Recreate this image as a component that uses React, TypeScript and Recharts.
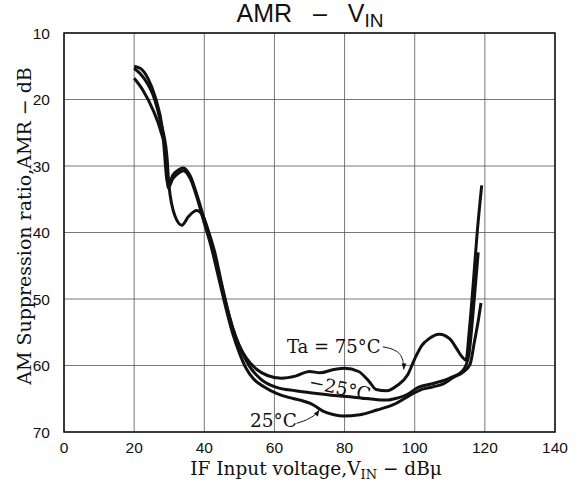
import React from 'react';
import { LineChart, Line, XAxis, YAxis, CartesianGrid, ReferenceArea } from 'recharts';

// axis ticks
const xTicks = [0, 20, 40, 60, 80, 100, 120, 140];
const yTicks = [10, 20, 30, 40, 50, 60, 70];

// Ta = 75°C
const vin75 = [20, 22, 24, 26, 28, 29.7, 31, 32.6, 34, 36, 38, 40, 42, 44, 46, 48, 50, 52, 55, 58, 62, 66, 70, 73, 77, 80, 84, 87, 89, 92, 95, 98, 100, 102, 104, 107, 110, 112, 113.5, 114.6, 115.6, 116.7, 117.8, 119.1];
const amr75 = [15.0, 15.4, 16.9, 19.6, 24.2, 33.0, 31.4, 30.6, 30.3, 31.5, 34.5, 38.0, 41.5, 46.0, 50.3, 54.2, 57.0, 58.9, 60.6, 61.5, 61.9, 61.6, 60.9, 61.1, 60.6, 60.4, 60.9, 62.4, 63.6, 63.8, 63.0, 61.4, 59.0, 57.0, 56.0, 55.3, 56.0, 57.5, 58.7, 59.2, 54.5, 47.6, 40.1, 32.9];

// Ta = -25°C
const vinM25 = [20, 22.5, 25.9, 27.5, 29.3, 29.9, 31.7, 33.6, 35.5, 37.8, 39.7, 41, 43, 45, 47, 49, 51, 53, 56, 60.6, 66, 72, 77, 81.5, 87, 92, 95, 97.7, 101, 105.3, 110, 113.8, 115.4, 116.4, 117.3, 118.1];
const amrM25 = [15.3, 16.6, 20.1, 23.3, 28.3, 32.8, 37.6, 38.9, 37.6, 36.7, 37.6, 39.5, 43.0, 47.8, 52.3, 55.8, 58.3, 60.2, 62.0, 63.3, 63.8, 64.2, 64.5, 64.7, 65.0, 65.2, 64.9, 64.4, 63.3, 62.7, 61.9, 60.7, 58.5, 53.5, 48.0, 43.0];

// Ta = 25°C
const vin25 = [20, 22.5, 25.4, 27.5, 29.2, 29.7, 31, 32.6, 34, 36, 38, 40, 42, 44, 46, 48, 50, 52, 54, 57, 60.6, 64, 67.3, 71, 74, 77, 79.6, 84.4, 89.2, 93.9, 99.6, 102, 105.3, 108, 111, 113.8, 115.8, 117, 118.2, 118.9];
const amr25 = [16.8, 18.6, 21.6, 24.6, 28.6, 33.3, 31.9, 31.1, 30.7, 31.9, 34.9, 38.6, 42.2, 46.6, 51.0, 55.0, 58.1, 60.5, 62.0, 63.2, 64.2, 64.8, 65.2, 65.9, 66.9, 67.4, 67.6, 67.4, 66.7, 65.9, 64.2, 63.6, 63.2, 62.8, 61.8, 61.0, 59.8, 56.5, 53.0, 50.6];

// leader lines for the annotations
const arrow75Vin = [90.9, 94.9, 96.6, 96.9];
const arrow75Amr = [57.2, 57.9, 59.2, 60.6];
const arrow25Vin = [66.3, 70.1, 72.0, 72.8];
const arrow25Amr = [68.7, 67.9, 67.2, 66.7];
const arrowAngles = [92, -55];

const zip = (xs: number[], ys: number[]) => xs.map((vin, i) => ({ vin, amr: ys[i] }));

const serif = '"DejaVu Serif", serif';
const sans = '"Liberation Sans", Arial, sans-serif';

const W = 579;
const H = 486;

// small arrowhead on the last point of a leader line
const arrowHead = (angle: number, last: number) => (props: any) => {
  const { cx, cy, index } = props;
  if (index !== last || cx == null || cy == null) return <g key={`h${index}`} />;
  return (
    <polygon
      key={`h${index}`}
      points="0,0 -6,-2.5 -6,2.5"
      fill="#111"
      transform={`translate(${cx},${cy}) rotate(${angle})`}
    />
  );
};

export default function App() {
  const curves = [zip(vin75, amr75), zip(vinM25, amrM25), zip(vin25, amr25)];
  const arrows = [zip(arrow75Vin, arrow75Amr), zip(arrow25Vin, arrow25Amr)];

  return (
    <div style={{ position: 'absolute', left: 0, top: 0, width: W, height: H, background: '#fff', color: '#111' }}>
      <LineChart width={W} height={H} margin={{ top: 33, right: 24, bottom: 24, left: 14 }}>
        <CartesianGrid stroke="#555" strokeWidth={0.8} />
        <XAxis
          dataKey="vin"
          type="number"
          domain={[0, 140]}
          ticks={xTicks}
          height={30}
          tickLine={false}
          axisLine={false}
          tickMargin={4}
          tick={{ fill: '#111', fontSize: 15.5, fontFamily: sans }}
          allowDataOverflow
        />
        <YAxis
          dataKey="amr"
          type="number"
          reversed
          domain={[10, 70]}
          ticks={yTicks}
          width={50}
          tickLine={false}
          axisLine={false}
          tickMargin={8}
          tick={{ fill: '#111', fontSize: 15.5, fontFamily: sans }}
          allowDataOverflow
        />
        <ReferenceArea x1={0} x2={140} y1={10} y2={70} fill="none" fillOpacity={0} stroke="#111" strokeWidth={1.5} />
        {curves.map((d, i) => (
          <Line
            key={`c${i}`}
            data={d}
            dataKey="amr"
            type="monotone"
            stroke="#111"
            strokeWidth={3}
            dot={false}
            activeDot={false}
            isAnimationActive={false}
          />
        ))}
        {arrows.map((d, i) => (
          <Line
            key={`a${i}`}
            data={d}
            dataKey="amr"
            type="monotone"
            stroke="#111"
            strokeWidth={1}
            dot={arrowHead(arrowAngles[i], d.length - 1)}
            activeDot={false}
            isAnimationActive={false}
          />
        ))}
      </LineChart>

      <div style={{ position: 'absolute', left: 310, top: 15, transform: 'translate(-50%, -50%)', fontFamily: sans, fontSize: 25, whiteSpace: 'pre' }}>
        {'AMR   –   V'}<span style={{ fontSize: 19, verticalAlign: -5 }}>IN</span>
      </div>

      <div style={{ position: 'absolute', left: 316, top: 470, transform: 'translate(-50%, -50%)', fontFamily: serif, fontSize: 18.5, whiteSpace: 'nowrap' }}>
        IF Input voltage,V<span style={{ fontSize: 13, verticalAlign: -4 }}>IN</span> − dBμ
      </div>

      <div style={{ position: 'absolute', left: 24, top: 226, transform: 'translate(-50%, -50%) rotate(-90deg)', fontFamily: serif, fontSize: 19, whiteSpace: 'nowrap' }}>
        AM Suppression ratio,AMR − dB
      </div>

      <div style={{ position: 'absolute', left: 287, top: 346, transform: 'translateY(-50%)', fontFamily: serif, fontSize: 18, whiteSpace: 'nowrap' }}>
        Ta = 75°C
      </div>
      <div style={{ position: 'absolute', left: 340, top: 388, transform: 'translate(-50%, -50%) rotate(12deg)', fontFamily: serif, fontSize: 18.5, whiteSpace: 'nowrap' }}>
        −25°C
      </div>
      <div style={{ position: 'absolute', left: 250, top: 420, transform: 'translateY(-50%)', fontFamily: serif, fontSize: 18.5, whiteSpace: 'nowrap' }}>
        25°C
      </div>
    </div>
  );
}
